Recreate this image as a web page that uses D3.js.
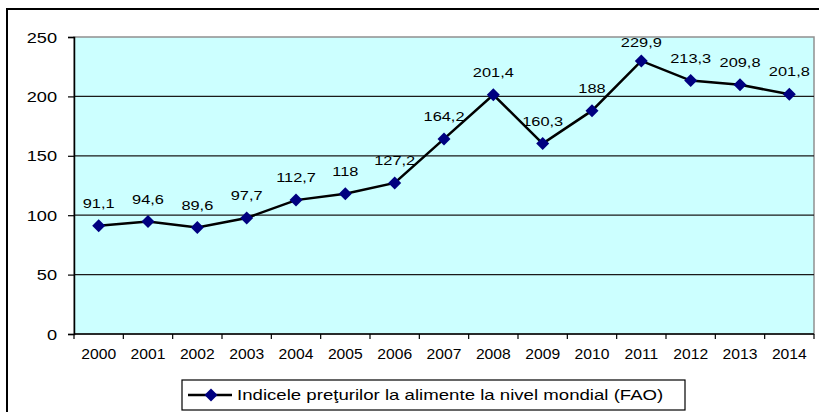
<!DOCTYPE html>
<html>
<head>
<meta charset="utf-8">
<script src="https://cdn.jsdelivr.net/npm/d3@7"></script>
<style>
  body { margin: 0; background: #fff; }
  svg text { font-family: "Liberation Sans", Arial, sans-serif; fill: #000; }
</style>
</head>
<body>
<div id="chart"></div>
<script>
// values from the chart
var years = ["2000", "2001", "2002", "2003", "2004", "2005", "2006", "2007",
             "2008", "2009", "2010", "2011", "2012", "2013", "2014"];
var values = [91.1, 94.6, 89.6, 97.7, 112.7, 118, 127.2, 164.2,
              201.4, 160.3, 188, 229.9, 213.3, 209.8, 201.8];
var yTicks = [0, 50, 100, 150, 200, 250];
var seriesName = "Indicele preţurilor la alimente la nivel mondial (FAO)";

var W = 819, H = 412;
var plot = { left: 74, top: 37, right: 814, bottom: 334 };

var svg = d3.select("#chart").append("svg")
    .attr("width", W)
    .attr("height", H);

// outer chart frame (runs off the right and bottom)
svg.append("rect")
    .attr("x", 7).attr("y", 9)
    .attr("width", W + 10).attr("height", H + 10)
    .attr("fill", "#fff")
    .attr("stroke", "#000")
    .attr("stroke-width", 2);

var x = d3.scaleBand()
    .domain(years)
    .range([plot.left, plot.right]);

var y = d3.scaleLinear()
    .domain([0, 250])
    .range([plot.bottom, plot.top]);

// plot background
svg.append("rect")
    .attr("x", plot.left).attr("y", plot.top)
    .attr("width", plot.right - plot.left)
    .attr("height", plot.bottom - plot.top)
    .attr("fill", "#ccffff")
    .attr("stroke", "#909090")
    .attr("stroke-width", 1.5);

// gridlines
svg.append("g")
    .selectAll("line")
    .data(yTicks.filter(function(d) { return d > 0 && d < 250; }))
    .enter().append("line")
    .attr("x1", plot.left).attr("x2", plot.right)
    .attr("y1", function(d) { return y(d); })
    .attr("y2", function(d) { return y(d); })
    .attr("stroke", "#1a1a1a")
    .attr("stroke-width", 1.3);

// the text in the picture is wider than plain Arial
function stretchText(k) {
    return function(sel) {
        sel.attr("transform", function() {
            var t = d3.select(this);
            var tx = +t.attr("x"), ty = +t.attr("y");
            return "translate(" + tx + "," + ty + ") scale(" + k + ",1)";
        }).attr("x", 0).attr("y", 0);
    };
}

// y axis
var yAxis = svg.append("g")
    .attr("transform", "translate(" + plot.left + ",0)")
    .call(d3.axisLeft(y).tickValues(yTicks).tickSize(6));
yAxis.select(".domain").attr("stroke", "#000").attr("stroke-width", 1.5);
yAxis.selectAll(".tick line").attr("stroke", "#000").attr("stroke-width", 1.2);
yAxis.selectAll(".tick text").remove();
yAxis.selectAll(".tick").append("text")
    .attr("x", -17).attr("y", 5)
    .attr("text-anchor", "end")
    .attr("font-size", "14px")
    .attr("font-family", "Liberation Sans, Arial, sans-serif")
    .attr("fill", "#000")
    .text(function(d) { return d; })
    .call(stretchText(1.3));

// x axis, ticks between categories
var xAxis = svg.append("g")
    .attr("transform", "translate(0," + plot.bottom + ")");
xAxis.append("line")
    .attr("x1", plot.left).attr("x2", plot.right)
    .attr("stroke", "#000").attr("stroke-width", 1.5);
xAxis.selectAll(".xt")
    .data(years.concat(["end"]))
    .enter().append("line")
    .attr("class", "xt")
    .attr("x1", function(d, i) { return plot.left + i * x.bandwidth(); })
    .attr("x2", function(d, i) { return plot.left + i * x.bandwidth(); })
    .attr("y1", 0).attr("y2", 5)
    .attr("stroke", "#000").attr("stroke-width", 1.2);
xAxis.selectAll(".xl")
    .data(years)
    .enter().append("text")
    .attr("class", "xl")
    .attr("x", function(d) { return x(d) + x.bandwidth() / 2; })
    .attr("y", 25)
    .attr("text-anchor", "middle")
    .attr("font-size", "14px")
    .text(function(d) { return d; })
    .call(stretchText(1.12));

// series line
var pts = years.map(function(d, i) {
    return { year: d, value: values[i], cx: x(d) + x.bandwidth() / 2, cy: y(values[i]) };
});

svg.append("path")
    .datum(pts)
    .attr("fill", "none")
    .attr("stroke", "#000")
    .attr("stroke-width", 2.5)
    .attr("d", d3.line().x(function(d) { return d.cx; }).y(function(d) { return d.cy; }));

var diamond = "M0,-6.5L6.5,0L0,6.5L-6.5,0Z";
svg.append("g")
    .selectAll("path")
    .data(pts)
    .enter().append("path")
    .attr("d", diamond)
    .attr("transform", function(d) { return "translate(" + d.cx + "," + d.cy + ")"; })
    .attr("fill", "#000080");

// data labels, kept inside the plot
svg.append("g")
    .selectAll("text")
    .data(pts)
    .enter().append("text")
    .attr("x", function(d) { return d.cx; })
    .attr("y", function(d) { return Math.max(d.cy - 18, plot.top + 10); })
    .attr("text-anchor", "middle")
    .attr("font-size", "13px")
    .text(function(d) { return String(d.value).replace(".", ","); })
    .call(stretchText(1.26));

// legend
var lg = svg.append("g");
lg.append("rect")
    .attr("x", 182).attr("y", 380)
    .attr("width", 503).attr("height", 30)
    .attr("fill", "#fff")
    .attr("stroke", "#000")
    .attr("stroke-width", 1.2);
lg.append("line")
    .attr("x1", 188).attr("x2", 232)
    .attr("y1", 395).attr("y2", 395)
    .attr("stroke", "#000").attr("stroke-width", 2.5);
lg.append("path")
    .attr("d", diamond)
    .attr("transform", "translate(211,395)")
    .attr("fill", "#000080");
lg.append("text")
    .attr("x", 237).attr("y", 400)
    .attr("font-size", "14px")
    .text(seriesName)
    .call(stretchText(1.33));
</script>
</body>
</html>
